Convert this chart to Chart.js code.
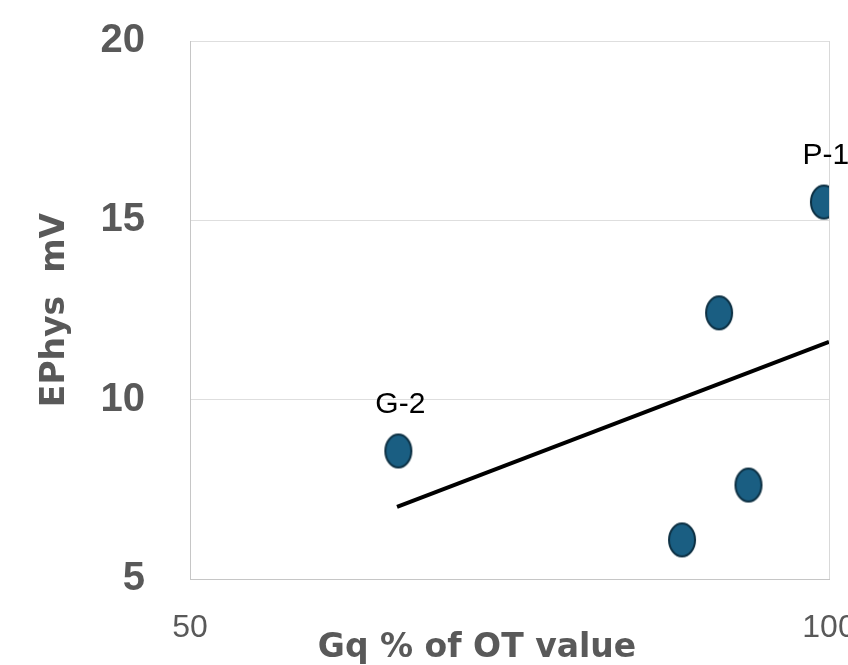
<!DOCTYPE html>
<html>
<head>
<meta charset="utf-8">
<script src="https://cdn.jsdelivr.net/npm/chart.js@4/dist/chart.umd.min.js"></script>
<style>
  html, body { margin: 0; padding: 0; background: #fff; overflow: hidden; }
  #wrap { position: relative; width: 900px; height: 665px; }
</style>
</head>
<body>
<div id="wrap"><canvas id="c" width="900" height="665"></canvas></div>
<script>
// 값은 그림에서 읽은 추정치
const gqPercent = [66.3, 88.5, 91.4, 93.7, 99.6];
const ephysMv = [8.57, 6.09, 12.42, 7.62, 15.51];
const pointLabels = ["G-2", "", "", "", "P-1"];
const trendX = [66.2, 100];
const trendY = [7.01, 11.61];
const xRange = [50, 100];
const yRange = [5, 20];

const GREY = "#595959";

// 타원 마커 (엑셀 스타일)
function ellipseMarker() {
  const c = document.createElement("canvas");
  c.width = 30; c.height = 37;
  const g = c.getContext("2d");
  g.beginPath();
  g.ellipse(15, 18.5, 13, 16.5, 0, 0, Math.PI * 2);
  g.fillStyle = "#1a5e82";
  g.fill();
  g.lineWidth = 2;
  g.strokeStyle = "#0c2f42";
  g.stroke();
  return c;
}

const pointLabelPlugin = {
  id: "pointLabels",
  afterDatasetsDraw(chart) {
    const ctx = chart.ctx;
    const meta = chart.getDatasetMeta(0);
    ctx.save();
    ctx.font = "30px 'Liberation Sans', Arial, sans-serif";
    ctx.fillStyle = "#000";
    ctx.textAlign = "center";
    ctx.textBaseline = "middle";
    meta.data.forEach((pt, i) => {
      if (pointLabels[i]) ctx.fillText(pointLabels[i], pt.x + 2, pt.y - 46);
    });
    ctx.restore();
  },
};

const xTitlePlugin = {
  id: "xTitle",
  afterDraw(chart) {
    const ctx = chart.ctx;
    ctx.save();
    ctx.font = "bold 33px 'DejaVu Sans', sans-serif";
    ctx.fillStyle = GREY;
    ctx.textAlign = "center";
    ctx.textBaseline = "alphabetic";
    ctx.fillText("Gq % of OT value", 477, 657);
    ctx.restore();
  },
};

new Chart(document.getElementById("c"), {
  type: "scatter",
  data: {
    datasets: [
      {
        data: gqPercent.map((x, i) => ({ x, y: ephysMv[i] })),
        pointStyle: ellipseMarker(),
        pointRadius: 15,
        pointHoverRadius: 15,
      },
      {
        type: "line",
        data: trendX.map((x, i) => ({ x, y: trendY[i] })),
        borderColor: "#000",
        borderWidth: 4,
        pointRadius: 0,
        fill: false,
      },
    ],
  },
  options: {
    responsive: false,
    animation: false,
    events: [],
    layout: { padding: { left: 35, top: 41, right: 71, bottom: 0 } },
    plugins: { legend: { display: false }, tooltip: { enabled: false } },
    scales: {
      x: {
        type: "linear",
        min: xRange[0],
        max: xRange[1],
        afterFit: (s) => { s.height = 86; },
        ticks: {
          stepSize: 50,
          padding: 30,
          color: GREY,
          font: { family: "'Liberation Sans', Arial, sans-serif", size: 32 },
        },
        grid: { color: "#d9d9d9", drawTicks: false },
        border: { color: "#c6c6c6" },
      },
      y: {
        min: yRange[0],
        max: yRange[1],
        afterFit: (s) => { s.width = 155; s.paddingTop = 0; s.paddingBottom = 0; },
        ticks: {
          stepSize: 5,
          padding: 45,
          color: GREY,
          font: { family: "'Liberation Sans', Arial, sans-serif", size: 40, weight: "bold" },
        },
        grid: { color: "#dedede", drawTicks: false },
        border: { color: "#c6c6c6" },
        title: {
          display: true,
          text: "EPhys  mV",
          color: GREY,
          padding: { top: 1, bottom: 0 },
          font: { family: "'DejaVu Sans', sans-serif", size: 33, weight: "bold" },
        },
      },
    },
  },
  plugins: [pointLabelPlugin, xTitlePlugin],
});
</script>
</body>
</html>
